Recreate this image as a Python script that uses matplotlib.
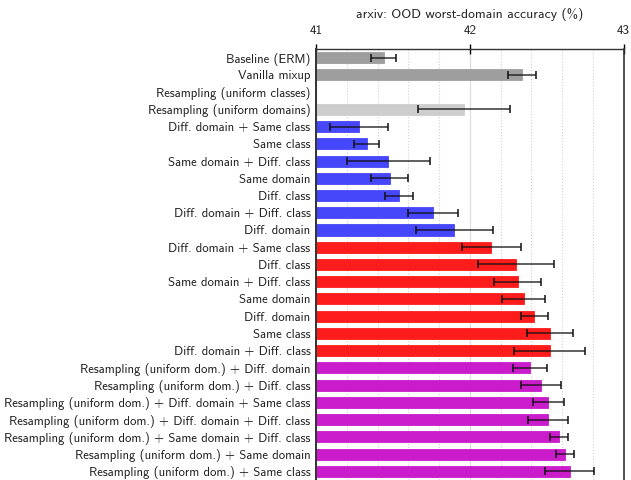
import matplotlib
matplotlib.use('Agg')
import matplotlib.pyplot as plt
from matplotlib.ticker import MultipleLocator

plt.rcParams['font.family'] = ['cmss10', 'DejaVu Sans']
plt.rcParams['axes.unicode_minus'] = False

labels = [
    'Baseline (ERM)',
    'Vanilla mixup',
    'Resampling (uniform classes)',
    'Resampling (uniform domains)',
    'Diff. domain + Same class',
    'Same class',
    'Same domain + Diff. class',
    'Same domain',
    'Diff. class',
    'Diff. domain + Diff. class',
    'Diff. domain',
    'Diff. domain + Same class',
    'Diff. class',
    'Same domain + Diff. class',
    'Same domain',
    'Diff. domain',
    'Same class',
    'Diff. domain + Diff. class',
    'Resampling (uniform dom.) + Diff. domain',
    'Resampling (uniform dom.) + Diff. class',
    'Resampling (uniform dom.) + Diff. domain + Same class',
    'Resampling (uniform dom.) + Diff. domain + Diff. class',
    'Resampling (uniform dom.) + Same domain + Diff. class',
    'Resampling (uniform dom.) + Same domain',
    'Resampling (uniform dom.) + Same class',
]
# No result for uniform-class resampling
accuracy = [41.44, 42.34, float('nan'), 41.96,
            41.28, 41.33, 41.47, 41.48, 41.54, 41.76, 41.90,
            42.14, 42.30, 42.31, 42.35, 42.42, 42.52, 42.52,
            42.39, 42.46, 42.51, 42.51, 42.58, 42.62, 42.65]
std = [0.08, 0.09, float('nan'), 0.30,
       0.19, 0.08, 0.27, 0.12, 0.09, 0.16, 0.25,
       0.19, 0.25, 0.15, 0.14, 0.09, 0.15, 0.23,
       0.11, 0.13, 0.10, 0.13, 0.06, 0.06, 0.16]
groups = ['base', 'base', 'resample', 'resample'] + ['blue'] * 7 + ['red'] * 7 + ['purple'] * 7

group_colors = {
    'base': '#9e9e9e',
    'resample': '#cdcdcd',
    'blue': '#4646fa',
    'red': '#fc1c1c',
    'purple': '#ca1ccb',
}

fig = plt.figure(figsize=(6.31, 4.8), dpi=100)
ax = fig.add_axes([0.5008, 0.0, 0.4876, 0.898])

ypos = list(range(len(labels)))
colors = [group_colors[g] for g in groups]
ax.barh(ypos, [a - 41 for a in accuracy], left=41, height=0.64, color=colors,
        edgecolor=colors, linewidth=0.6, zorder=2)
ax.errorbar(accuracy, ypos, xerr=std, fmt='none', ecolor='#111111', elinewidth=1.1,
            capsize=3, capthick=1.3, alpha=0.85, zorder=3)

ax.set_xlim(41, 43)
ax.set_ylim(24.5, -0.5)
ax.set_yticks(ypos)
ax.set_yticklabels(labels, fontsize=9.2, color='#222222')
ax.tick_params(axis='y', length=0, pad=4)

ax.xaxis.set_ticks_position('top')
ax.xaxis.set_label_position('top')
ax.set_xticks([41, 42, 43])
ax.set_xticklabels(['41', '42', '43'], fontsize=9.4, color='#222222')
ax.tick_params(axis='x', direction='inout', length=7, width=1, pad=5)
ax.xaxis.set_minor_locator(MultipleLocator(0.2))
ax.tick_params(axis='x', which='minor', length=0)
ax.set_xlabel('arxiv: OOD worst-domain accuracy (%)', fontsize=9.8, color='#222222', labelpad=5)

ax.grid(axis='x', which='minor', linestyle=':', color='#d0d0d0', linewidth=0.8, zorder=0)
ax.grid(axis='x', which='major', linestyle='-', color='#dedede', linewidth=0.9, zorder=0)
ax.set_axisbelow(True)

for side in ['left', 'right', 'top']:
    ax.spines[side].set_color('#333333')
ax.spines['left'].set_linewidth(1.4)
ax.spines['right'].set_linewidth(1.2)
ax.spines['top'].set_linewidth(1.0)
ax.spines['bottom'].set_visible(False)

fig.savefig('out.png', dpi=100)
